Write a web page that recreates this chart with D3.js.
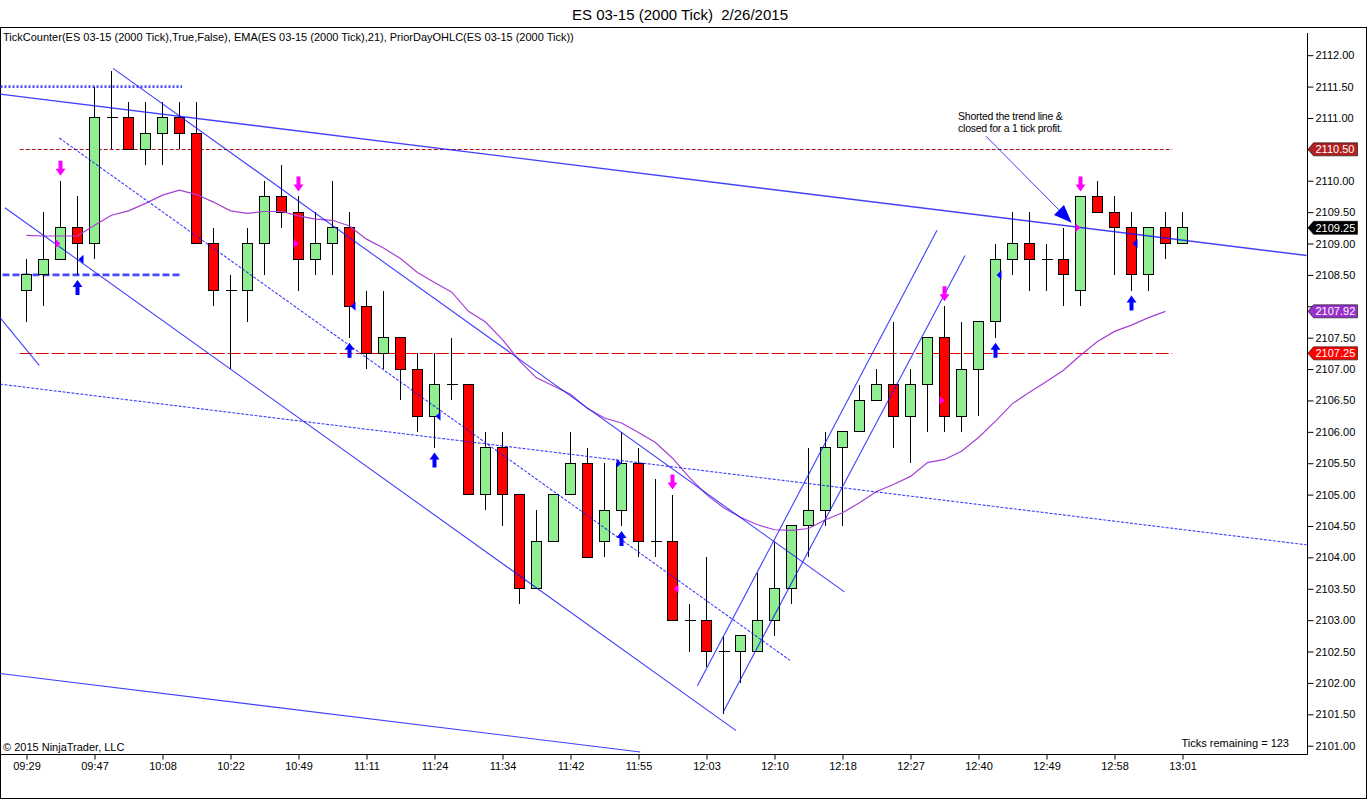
<!DOCTYPE html>
<html>
<head>
<meta charset="utf-8">
<script src="https://cdn.jsdelivr.net/npm/d3@7"></script>
<style>
html,body{margin:0;padding:0;background:#fff;}
svg{display:block;font-family:"Liberation Sans",Arial,sans-serif;}
.pre{white-space:pre;}
</style>
</head>
<body>
<svg id="chart" width="1368" height="800"></svg>
<script>
// ---------------- DATA ----------------
const chartTitle = "ES 03-15 (2000 Tick)  2/26/2015";
const indicatorLabel = "TickCounter(ES 03-15 (2000 Tick),True,False), EMA(ES 03-15 (2000 Tick),21), PriorDayOHLC(ES 03-15 (2000 Tick))";
const copyrightLabel = "\u00A9 2015 NinjaTrader, LLC";
const ticksRemainingLabel = "Ticks remaining = 123";
const noteLines = ["Shorted the trend line &", "closed for a 1 tick profit."];

const timeLabels = ["09:29","09:47","10:08","10:22","10:49","11:11","11:24","11:34","11:42","11:55","12:03","12:10","12:18","12:27","12:40","12:49","12:58","13:01"];
const timeLabelBars = [0,4,8,12,16,20,24,28,32,36,40,44,48,52,56,60,64,68];
const priceTicks = [2101.00,2101.50,2102.00,2102.50,2103.00,2103.50,2104.00,2104.50,2105.00,2105.50,2106.00,2106.50,2107.00,2107.50,2108.00,2108.50,2109.00,2109.50,2110.00,2110.50,2111.00,2111.50,2112.00];

const opens  = [2108.25,2108.50,2108.75,2109.25,2109.00,2111.00,2111.00,2110.50,2110.75,2111.00,
                2110.75,2109.00,2108.25,2108.25,2109.00,2109.75,2109.50,2108.75,2109.00,2109.25,
                2108.00,2107.25,2107.50,2107.00,2106.25,2106.75,2106.75,2105.00,2105.75,2105.00,
                2103.50,2104.25,2105.00,2105.50,2104.25,2104.75,2105.50,2104.25,2104.25,2103.00,
                2103.00,2102.50,2102.50,2102.50,2103.00,2103.50,2104.50,2104.75,2105.75,2106.00,
                2106.50,2106.75,2106.25,2106.75,2107.50,2106.25,2107.00,2107.75,2108.75,2109.00,
                2108.75,2108.75,2108.25,2109.75,2109.50,2109.25,2108.50,2109.25,2109.00];
const highs  = [2108.75,2109.50,2110.00,2109.75,2111.50,2111.75,2111.25,2111.25,2111.25,2111.25,
                2111.25,2109.25,2108.50,2109.25,2110.00,2110.25,2109.75,2109.50,2110.00,2109.50,
                2108.25,2108.25,2107.50,2107.25,2107.25,2107.50,2106.75,2106.00,2106.00,2105.00,
                2104.75,2105.00,2106.00,2105.75,2105.50,2106.00,2105.75,2105.25,2105.00,2103.25,
                2104.00,2102.75,2102.75,2103.75,2104.25,2104.50,2105.75,2106.00,2106.00,2106.75,
                2107.00,2107.75,2107.00,2107.50,2108.00,2107.75,2107.75,2109.00,2109.50,2109.50,
                2109.00,2109.25,2109.75,2110.00,2109.75,2109.50,2109.25,2109.50,2109.50];
const lows   = [2107.75,2108.00,2108.75,2108.50,2108.75,2110.50,2110.50,2110.25,2110.25,2110.50,
                2109.00,2108.00,2107.00,2107.75,2108.50,2109.25,2108.25,2108.50,2108.50,2107.50,
                2107.00,2107.00,2106.50,2106.00,2105.75,2106.50,2105.00,2104.75,2104.50,2103.25,
                2103.50,2104.25,2105.00,2104.00,2104.00,2104.50,2104.00,2104.00,2103.00,2102.50,
                2102.25,2101.50,2102.00,2102.50,2102.75,2103.25,2104.00,2104.50,2104.50,2106.00,
                2106.50,2105.75,2105.50,2106.00,2106.00,2106.00,2106.25,2107.50,2108.50,2108.25,
                2108.25,2108.00,2108.00,2109.50,2108.50,2108.25,2108.25,2108.75,2109.00];
const closes = [2108.50,2108.75,2109.25,2109.00,2111.00,2111.00,2110.50,2110.75,2111.00,2110.75,
                2109.00,2108.25,2108.25,2109.00,2109.75,2109.50,2108.75,2109.00,2109.25,2108.00,
                2107.25,2107.50,2107.00,2106.25,2106.75,2106.75,2105.00,2105.75,2105.00,2103.50,
                2104.25,2105.00,2105.50,2104.00,2104.75,2105.50,2104.25,2104.25,2103.00,2103.00,
                2102.50,2102.50,2102.75,2103.00,2103.50,2104.50,2104.75,2105.75,2106.00,2106.50,
                2106.75,2106.25,2106.75,2107.50,2106.25,2107.00,2107.75,2108.75,2109.00,2108.75,
                2108.75,2108.50,2109.75,2109.50,2109.25,2108.50,2109.25,2109.00,2109.25];

const ema21  = [2109.13,2109.12,2109.12,2109.12,2109.29,2109.45,2109.52,2109.64,2109.77,2109.85,
                2109.78,2109.66,2109.52,2109.48,2109.51,2109.51,2109.44,2109.39,2109.37,2109.28,
                2109.07,2108.93,2108.76,2108.54,2108.38,2108.23,2107.92,2107.75,2107.47,2107.13,
                2106.86,2106.73,2106.60,2106.37,2106.22,2106.14,2105.99,2105.83,2105.58,2105.27,
                2105.00,2104.79,2104.64,2104.52,2104.44,2104.43,2104.46,2104.60,2104.71,2104.87,
                2105.05,2105.16,2105.29,2105.51,2105.56,2105.69,2105.91,2106.17,2106.45,2106.63,
                2106.80,2106.98,2107.22,2107.44,2107.60,2107.70,2107.82,2107.92];

// prior-day levels (drawn across the session)
const priorDayLevels = [2110.50, 2107.25];
const priorDayStartBar = -0.4, priorDayEndBar = 67.4;
// left horizontal levels carried from earlier session
const leftLevels = [2111.50, 2108.50];
const leftLevelsEndBar = [9.15, 9.03];

// signal arrows
const sellSignalBars = [2, 16, 38, 54, 62];
const buySignalBars  = [3, 19, 24, 35, 57, 65];

// executions: bar, price, type (sell / buy), pointing direction
const execBars   = [2, 3, 16, 19, 24, 35, 38, 54, 57, 62, 65];
const execPrices = [2109.00, 2108.75, 2109.00, 2108.00, 2106.25, 2105.50, 2103.50, 2106.50, 2108.50, 2109.25, 2109.00];
const execTypes  = ["sell","buy","sell","buy","buy","buy","sell","sell","buy","sell","buy"];
const execDirs   = ["R","L","R","L","L","R","L","R","L","R","L"];

// drawn trend lines: start bar, start price, end bar, end price
const trendStartBar   = [-1.56, -1.56, -1.56, 5.09, 1.93, -1.27, -1.56, 39.46, 40.97];
const trendStartPrice = [2111.38, 2106.76, 2102.15, 2111.79, 2110.68, 2109.57, 2107.82, 2101.95, 2101.53];
const trendEndBar     = [75.3, 75.3, 36.1, 48.11, 44.91, 41.74, 0.75, 53.56, 55.21];
const trendEndPrice   = [2108.81, 2104.20, 2100.90, 2103.45, 2102.36, 2101.24, 2107.06, 2109.21, 2108.81];
const trendDashed     = [false, true, false, false, true, false, false, false, false];

// annotation arrow
const noteArrowStart = [56.44, 2110.71];
const noteArrowEnd   = [61.48, 2109.33];
const noteTextAnchor = [54.8, 2110.97];

// ---------------- CHART ----------------
const W = 1368, H = 800;
const plotRight = 1307.5, plotTop = 27.5, plotBottom = 754.5;
const n = opens.length;

const x = d3.scaleLinear().domain([0, n - 1]).range([26.5, 26.5 + 17 * (n - 1)]);
const y = d3.scaleLinear().domain([2101, 2112]).range([745.7, 55.2]);

const svg = d3.select("#chart");
svg.append("rect").attr("width", W).attr("height", H).attr("fill", "#fff");

const defs = svg.append("defs");
defs.append("clipPath").attr("id", "plotClip")
  .append("rect").attr("x", 0).attr("y", plotTop + 0.5).attr("width", plotRight).attr("height", plotBottom - plotTop - 1);

// title
svg.append("text").attr("class", "pre").attr("x", 680).attr("y", 20).attr("text-anchor", "middle")
  .attr("font-size", 15).attr("fill", "#000").text(chartTitle);

// outer frame
svg.append("rect").attr("x", 0.5).attr("y", plotTop).attr("width", 1366).attr("height", 771)
  .attr("fill", "none").attr("stroke", "#000").attr("stroke-width", 1);

const plot = svg.append("g").attr("clip-path", "url(#plotClip)");

// prior day levels
const pdColors = ["#a01818", "#e00000"];
const pdDash = ["4,2", "13,3"];
priorDayLevels.forEach((lv, k) => {
  plot.append("line")
    .attr("x1", x(priorDayStartBar)).attr("x2", x(priorDayEndBar))
    .attr("y1", Math.round(y(lv)) + 0.5).attr("y2", Math.round(y(lv)) + 0.5)
    .attr("stroke", pdColors[k]).attr("stroke-width", 1).attr("stroke-dasharray", pdDash[k]);
});

// left levels
const llDash = ["2,2", "7,3"];
const llWidth = [2.6, 2.6];
leftLevels.forEach((lv, k) => {
  plot.append("line")
    .attr("x1", x(-2)).attr("x2", x(leftLevelsEndBar[k]))
    .attr("y1", y(lv)).attr("y2", y(lv))
    .attr("stroke", "#2a2aff").attr("stroke-opacity", 0.85)
    .attr("stroke-width", llWidth[k]).attr("stroke-dasharray", llDash[k]);
});

// candles
const idx = d3.range(n);
const cg = plot.append("g").attr("shape-rendering", "crispEdges");
cg.selectAll("line.wick").data(idx).join("line").attr("class", "wick")
  .attr("x1", i => x(i)).attr("x2", i => x(i))
  .attr("y1", i => y(highs[i])).attr("y2", i => y(lows[i]))
  .attr("stroke", "#000").attr("stroke-width", 1);

const bodies = idx.filter(i => opens[i] !== closes[i]);
const dojis = idx.filter(i => opens[i] === closes[i]);
cg.selectAll("rect.body").data(bodies).join("rect").attr("class", "body")
  .attr("x", i => x(i) - 5).attr("width", 10)
  .attr("y", i => y(Math.max(opens[i], closes[i])))
  .attr("height", i => Math.abs(y(opens[i]) - y(closes[i])))
  .attr("fill", i => closes[i] > opens[i] ? "#90ee90" : "#ff0000")
  .attr("stroke", "#000").attr("stroke-width", 1);
cg.selectAll("line.doji").data(dojis).join("line").attr("class", "doji")
  .attr("x1", i => x(i) - 5).attr("x2", i => x(i) + 6)
  .attr("y1", i => y(opens[i])).attr("y2", i => y(opens[i]))
  .attr("stroke", "#000").attr("stroke-width", 1);

// EMA
plot.append("path").datum(ema21)
  .attr("d", d3.line().x((d, i) => x(i)).y(d => y(d)))
  .attr("fill", "none").attr("stroke", "#a63fd6").attr("stroke-width", 1.2);

// trend lines
trendStartBar.forEach((s, k) => {
  plot.append("line")
    .attr("x1", x(s)).attr("y1", y(trendStartPrice[k]))
    .attr("x2", x(trendEndBar[k])).attr("y2", y(trendEndPrice[k]))
    .attr("stroke", "#1010ff").attr("stroke-opacity", 0.8)
    .attr("stroke-width", k === 0 ? 1.4 : 1.1)
    .attr("stroke-dasharray", trendDashed[k] ? "3,1.5" : null);
});

// annotation arrow
{
  const x1 = x(noteArrowStart[0]), y1 = y(noteArrowStart[1]);
  const x2 = x(noteArrowEnd[0]), y2 = y(noteArrowEnd[1]);
  const dx = x2 - x1, dy = y2 - y1, len = Math.hypot(dx, dy);
  const ux = dx / len, uy = dy / len;
  const hl = 18, hw = 7;
  const bx = x2 - ux * hl, by = y2 - uy * hl;
  plot.append("line").attr("x1", x1).attr("y1", y1).attr("x2", bx).attr("y2", by)
    .attr("stroke", "#1010ff").attr("stroke-opacity", 0.8).attr("stroke-width", 1);
  plot.append("path")
    .attr("d", `M${x2},${y2}L${bx - uy * hw},${by + ux * hw}L${bx + uy * hw},${by - ux * hw}Z`)
    .attr("fill", "#0000ff");
  noteLines.forEach((t, k) => {
    plot.append("text").attr("x", x(noteTextAnchor[0])).attr("y", y(noteTextAnchor[1]) + k * 12)
      .attr("font-size", 10.5).attr("letter-spacing", -0.25).attr("fill", "#000").text(t);
  });
}

// signal arrows
const sig = plot.append("g");
sellSignalBars.forEach(i => {
  const cx = x(i), ty = y(highs[i]) - 5;
  sig.append("path")
    .attr("d", `M${cx - 2},${ty - 15}L${cx + 2},${ty - 15}L${cx + 2},${ty - 7}L${cx + 5},${ty - 7}L${cx},${ty}L${cx - 5},${ty - 7}L${cx - 2},${ty - 7}Z`)
    .attr("fill", "#ff00ff");
});
buySignalBars.forEach(i => {
  const cx = x(i), ty = y(lows[i]) + 5;
  sig.append("path")
    .attr("d", `M${cx - 2},${ty + 15}L${cx + 2},${ty + 15}L${cx + 2},${ty + 7}L${cx + 5},${ty + 7}L${cx},${ty}L${cx - 5},${ty + 7}L${cx - 2},${ty + 7}Z`)
    .attr("fill", "#0000ff");
});

// execution triangles
execBars.forEach((i, k) => {
  const cx = x(i), cy = y(execPrices[k]);
  const col = execTypes[k] === "sell" ? "#ff00ff" : "#0000ff";
  const d = execDirs[k] === "R"
    ? `M${cx},${cy}L${cx - 5},${cy - 4.5}L${cx - 5},${cy + 4.5}Z`
    : `M${cx + 1},${cy}L${cx + 6},${cy - 4.5}L${cx + 6},${cy + 4.5}Z`;
  sig.append("path").attr("d", d).attr("fill", col);
});

// plot texts
svg.append("text").attr("x", 3).attr("y", 41).attr("font-size", 11).attr("fill", "#000").text(indicatorLabel);
svg.append("text").attr("x", 3).attr("y", 751).attr("font-size", 11).attr("fill", "#000").text(copyrightLabel);
svg.append("text").attr("x", 1289).attr("y", 747).attr("text-anchor", "end").attr("font-size", 11).attr("fill", "#000").text(ticksRemainingLabel);

// axes lines
svg.append("line").attr("x1", plotRight).attr("x2", plotRight).attr("y1", 33).attr("y2", plotBottom).attr("stroke", "#000");
svg.append("line").attr("x1", 0).attr("x2", plotRight).attr("y1", plotBottom).attr("y2", plotBottom).attr("stroke", "#000");

// price value tags
const lastClose = closes[n - 1];
const lastEma = ema21[ema21.length - 1];
const tags = [
  { v: priorDayLevels[0], fill: "#b22222" },
  { v: lastClose, fill: "#000000" },
  { v: lastEma, fill: "#9932cc" },
  { v: priorDayLevels[1], fill: "#ff0000" }
];

// y axis (labels hidden where a value tag sits on top of them)
const coveredByTag = v => tags.some(t => Math.abs(y(t.v) - y(v)) < 12);
const yAxis = d3.axisRight(y).tickValues(priceTicks)
  .tickFormat(v => coveredByTag(v) ? "" : d3.format(".2f")(v)).tickSize(6).tickPadding(2);
const yg = svg.append("g").attr("transform", `translate(${plotRight},0)`).call(yAxis);
yg.select(".domain").remove();
yg.attr("font-size", 11).attr("font-family", null);
yg.selectAll(".tick line").attr("stroke", "#000");
yg.selectAll(".tick text").attr("fill", "#000");

// x axis
const xAxis = d3.axisBottom(x).tickValues(timeLabelBars).tickFormat((d, k) => timeLabels[k]).tickSize(5).tickPadding(3);
const xg = svg.append("g").attr("transform", `translate(0,${plotBottom})`).call(xAxis);
xg.select(".domain").remove();
xg.attr("font-size", 11).attr("font-family", null);
xg.selectAll(".tick line").attr("stroke", "#000");
xg.selectAll(".tick text").attr("fill", "#000");

const tg = svg.append("g");
tags.forEach(t => {
  const cy = y(t.v);
  tg.append("path")
    .attr("d", `M${plotRight + 0.5},${cy}L${plotRight + 6},${cy - 6.5}L${plotRight + 50},${cy - 6.5}L${plotRight + 50},${cy + 6.5}L${plotRight + 6},${cy + 6.5}Z`)
    .attr("fill", t.fill).attr("stroke", "#000").attr("stroke-width", 0.6);
  tg.append("text").attr("x", plotRight + 8).attr("y", cy).attr("dy", "0.36em")
    .attr("font-size", 11).attr("fill", "#fff").text(d3.format(".2f")(t.v));
});
</script>
</body>
</html>
